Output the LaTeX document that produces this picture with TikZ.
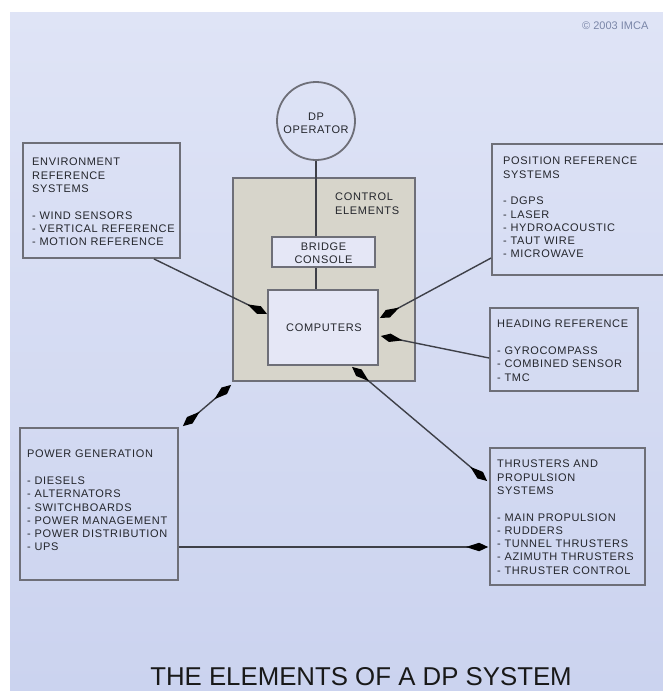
\documentclass[tikz,border=0pt]{standalone}
\usepackage{fontspec}
\setmainfont{Liberation Sans}
\newfontfamily\boxfont{Liberation Sans}[LetterSpace=6]
\usetikzlibrary{arrows.meta}
\definecolor{bgtop}{HTML}{DFE4F6}
\definecolor{bgbot}{HTML}{CBD3EF}
\definecolor{bordergray}{HTML}{6E6F78}
\definecolor{txtgray}{HTML}{24262C}
\definecolor{linegray}{HTML}{3E4048}
\definecolor{ctrlfill}{HTML}{D7D5CB}
\definecolor{compfill}{HTML}{E5E7F6}
\definecolor{copygray}{HTML}{7A86A8}
\tikzset{
  box/.style={draw=bordergray, line width=1.8pt, rectangle, inner sep=0pt},
  txt/.style={font=\boxfont\fontsize{11}{13.3}\selectfont, text=txtgray, inner sep=0pt},
  boxtxt/.style={txt, align=left, anchor=north west},
  conn/.style={draw=linegray, line width=1.4pt},
  bigtip/.tip={Kite[length=22pt,width=8.5pt,inset=13pt,color=black,fill=black]},
  tip/.style={-bigtip},
  dtip/.style={bigtip-bigtip}
}
\begin{document}
\begin{tikzpicture}[x=1pt,y=-1pt]
\useasboundingbox (0,0) rectangle (663,691);
\fill[white] (0,0) rectangle (663,691);
\shade[top color=bgtop,bottom color=bgbot] (10,12) rectangle (663,691);

% control elements
\node[box, fill=ctrlfill, minimum width=182pt, minimum height=203pt] (ctrl) at (324,279.5) {};
\node[txt, align=left, anchor=north west] (ctrltxt) at (335,193) {CONTROL\\ELEMENTS};

% DP operator
\node[draw=bordergray, line width=1.8pt, circle, minimum size=78pt, inner sep=0pt] (op) at (316,121) {};
\node[txt, align=center] (optxt) at (316,123) {DP\\OPERATOR};

\node[box, fill=compfill, minimum width=103pt, minimum height=30pt] (bridge) at (323.5,252) {};
\node[txt, align=center] (bridgetxt) at (323.5,253) {BRIDGE\\CONSOLE};

\node[box, fill=compfill, minimum width=110pt, minimum height=75pt] (comp) at (323,327.5) {};
\node[txt] (comptxt) at (324,328) {COMPUTERS};

\draw[conn] (op.south) -- (op.south |- bridge.north);
\draw[conn] (op.south |- bridge.south) -- (op.south |- comp.north);

% side boxes
\node[box, minimum width=157pt, minimum height=115pt] (env) at (101.5,200.5) {};
\node[boxtxt] (envtxt) at (32,158) {ENVIRONMENT\\REFERENCE\\SYSTEMS\\[13.3pt]- WIND SENSORS\\- VERTICAL REFERENCE\\- MOTION REFERENCE};

\node[box, minimum width=176pt, minimum height=131pt] (pos) at (580,209.5) {};
\node[boxtxt] (postxt) at (503,157) {POSITION REFERENCE\\SYSTEMS\\[13.3pt]- DGPS\\- LASER\\- HYDROACOUSTIC\\- TAUT WIRE\\- MICROWAVE};

\node[box, minimum width=148pt, minimum height=83pt] (head) at (564,349.5) {};
\node[boxtxt] (headtxt) at (497,320) {HEADING REFERENCE\\[13.3pt]- GYROCOMPASS\\- COMBINED SENSOR\\- TMC};

\node[box, minimum width=158pt, minimum height=152pt] (power) at (99,504) {};
\node[boxtxt] (powertxt) at (27,450) {POWER GENERATION\\[13.3pt]- DIESELS\\- ALTERNATORS\\- SWITCHBOARDS\\- POWER MANAGEMENT\\- POWER DISTRIBUTION\\- UPS};

\node[box, minimum width=155pt, minimum height=137pt] (thr) at (567.5,516.5) {};
\node[boxtxt] (thrtxt) at (497,460) {THRUSTERS AND\\PROPULSION\\SYSTEMS\\[13.3pt]- MAIN PROPULSION\\- RUDDERS\\- TUNNEL THRUSTERS\\- AZIMUTH THRUSTERS\\- THRUSTER CONTROL};

% connectors
\draw[conn, tip] ([xshift=-27pt]env.south east) -- ([yshift=13.5pt]comp.west);
\draw[conn, tip] ([yshift=-48.5pt]pos.west) -- ([yshift=9.5pt,xshift=1pt]comp.east);
\draw[conn, tip] ([yshift=-8.5pt]head.west) -- ([yshift=-8.5pt,xshift=2pt]comp.east);
\draw[conn, dtip] ([xshift=29pt,yshift=-1pt]comp.south) -- ([yshift=35.5pt,xshift=-2pt]thr.west);
\draw[conn, dtip] ([xshift=-1pt,yshift=-3pt]ctrl.south west) -- ([xshift=4pt,yshift=1pt]power.north east);
\draw[conn, tip] ([yshift=-43pt]power.east) -- ([yshift=-30.5pt,xshift=-1pt]thr.west);

% texts
\node[font=\fontsize{11}{13}\selectfont, text=copygray, anchor=west, inner sep=0pt] (copy) at (582,26) {© 2003 IMCA};
\node[font=\fontsize{25.8}{28}\selectfont, text=black!90, anchor=base, inner sep=0pt] (title) at (361,685) {THE ELEMENTS OF A DP SYSTEM};
\end{tikzpicture}
\end{document}
